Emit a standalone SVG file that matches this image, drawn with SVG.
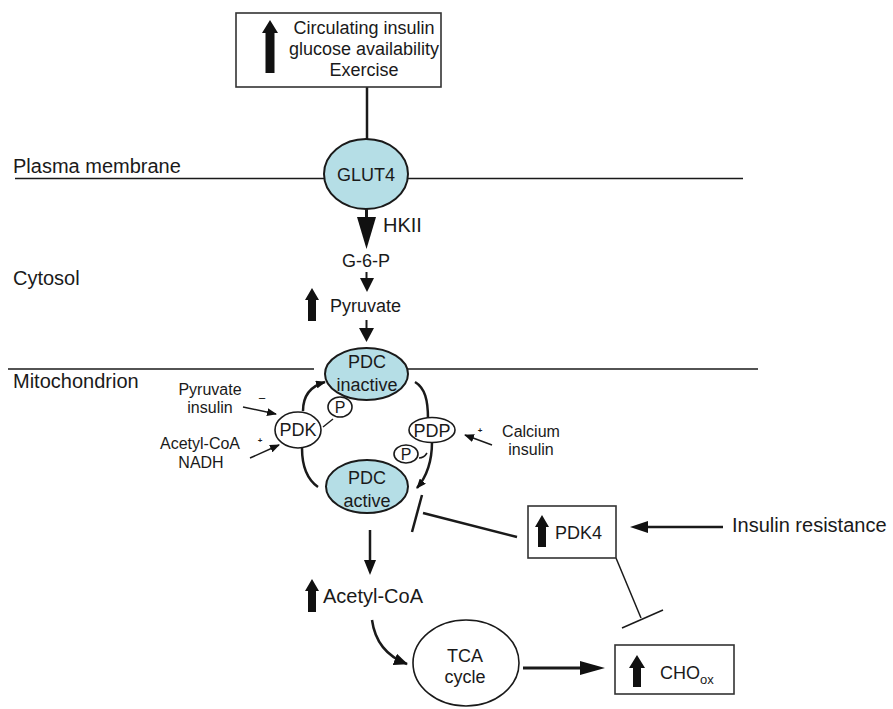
<svg xmlns="http://www.w3.org/2000/svg" width="893" height="709" viewBox="0 0 893 709">
<defs>
<style>
text{font-family:"Liberation Sans",Arial,Helvetica,sans-serif;fill:#1a1a1a}
.t20{font-size:20px}
.t18{font-size:18px}
.t16{font-size:16px}
.mid{text-anchor:middle}
.box{fill:#fff;stroke:#333;stroke-width:1.6}
.enz{fill:#b5dee6;stroke:#1a1a1a;stroke-width:2}
.ov{fill:#fff;stroke:#1a1a1a;stroke-width:1.6}
.mem{stroke:#1a1a1a;stroke-width:1.3;fill:none}
.ln{stroke:#1a1a1a;stroke-width:2.5;fill:none}
.thin{stroke:#1a1a1a;stroke-width:1.5;fill:none}
.blk{fill:#111}
</style>
<marker id="ah" markerWidth="10" markerHeight="8" refX="9" refY="4" orient="auto" markerUnits="userSpaceOnUse"><path d="M0 0 L10 4 L0 8 Z" fill="#111"/></marker>
<marker id="ah2" markerWidth="14" markerHeight="12" refX="13" refY="6" orient="auto" markerUnits="userSpaceOnUse"><path d="M0 0 L14 6 L0 12 Z" fill="#111"/></marker>
</defs>
<rect width="893" height="709" fill="#fff"/>

<g id="membranes">
<line class="mem" x1="15" y1="178.5" x2="324" y2="178.5"/>
<line class="mem" x1="408" y1="178.5" x2="743" y2="178.5"/>
<line class="mem" x1="8" y1="369" x2="314" y2="369"/>
<line class="mem" x1="407" y1="369" x2="758" y2="369"/>
<text class="t20" x="13" y="173">Plasma membrane</text>
<text class="t20" x="13" y="285">Cytosol</text>
<text class="t20" x="13" y="388">Mitochondrion</text>
</g>

<g id="connectors">
<line class="ln" x1="367" y1="87" x2="367" y2="139"/>
<line class="ln" x1="366.5" y1="209" x2="366.5" y2="219" style="stroke-width:3"/>
<polygon class="blk" points="357,217 376,217 366.5,249"/>
<line class="ln" x1="366.5" y1="272" x2="366.5" y2="280" style="stroke-width:2"/>
<polygon class="blk" points="360,278 374,278 367,292"/>
<line class="ln" x1="366.5" y1="320" x2="366.5" y2="330" style="stroke-width:2"/>
<polygon class="blk" points="359,328 374,328 366.5,342"/>
<path class="ln" d="M303 411 C303 395 311 386 325 382" marker-end="url(#ah)"/>
<path class="ln" d="M302 448 C302 468 308 480 318 487"/>
<path class="ln" d="M415 382 C425 388 428 400 428 419"/>
<path class="ln" d="M432 442 C432 460 428 475 417 488" marker-end="url(#ah)"/>
<path class="thin" d="M323 427 L333 419"/>
<path class="thin" d="M419 458 Q424 458 427 453"/>
<path class="thin" d="M243 407 L276 414" marker-end="url(#ah)"/>
<path class="thin" d="M250 458 L279 445" marker-end="url(#ah)"/>
<path class="thin" d="M492 445 L465 435" marker-end="url(#ah)"/>
<path class="ln" d="M422 495 L412 532"/>
<path class="ln" d="M423 513 L517 537"/>
<line class="ln" x1="723" y1="527" x2="645" y2="527"/>
<polygon class="blk" points="630,527 648,521 648,533"/>
<line class="ln" x1="370" y1="530" x2="370" y2="562"/>
<polygon class="blk" points="364,560 376,560 370,575"/>
<path class="ln" d="M372 620 C375 642 386 656 407 664" marker-end="url(#ah2)"/>
<line class="ln" x1="523" y1="668" x2="582" y2="668" style="stroke-width:3"/>
<polygon class="blk" points="580,661 605,668 580,675"/>
<path class="thin" d="M616 558 L641 618"/>
<path class="thin" d="M622 628 L663 610"/>
</g>

<g id="stimuli">
<rect class="box" x="236" y="13" width="205" height="74"/>
<path class="blk" d="M270 20 L278 33 L274.5 33 L274.5 73 L265.5 73 L265.5 33 L262 33 Z"/>
<text class="t18 mid" x="364" y="34">Circulating insulin</text>
<text class="t18 mid" x="364" y="55">glucose availability</text>
<text class="t18 mid" x="364" y="76">Exercise</text>
</g>

<g id="glut4">
<ellipse class="enz" cx="366" cy="174" rx="42" ry="35"/>
<text class="t18 mid" x="366" y="181">GLUT4</text>
</g>

<g id="hkii"><text class="t20" x="383" y="232">HKII</text></g>
<g id="g6p"><text class="t18 mid" x="366" y="267">G-6-P</text></g>

<g id="pyruvate">
<path class="blk" d="M312 288 L319 300 L316 300 L316 321 L308 321 L308 300 L305 300 Z"/>
<text class="t18" x="330" y="312">Pyruvate</text>
</g>

<g id="pdc-inactive">
<ellipse class="enz" cx="366.5" cy="374" rx="41.5" ry="26"/>
<text class="t18 mid" x="367" y="368">PDC</text>
<text class="t18 mid" x="367" y="391">inactive</text>
</g>

<g id="pdc-active">
<ellipse class="enz" cx="367" cy="486.5" rx="41" ry="26.5"/>
<text class="t18 mid" x="367" y="484">PDC</text>
<text class="t18 mid" x="367" y="507">active</text>
</g>

<g id="pdk">
<ellipse class="ov" cx="298" cy="430" rx="23" ry="18"/>
<text class="t18 mid" x="298" y="436">PDK</text>
</g>

<g id="p1">
<ellipse class="ov" cx="340" cy="407" rx="12" ry="10"/>
<text class="t16 mid" x="340" y="413">P</text>
</g>

<g id="pdp">
<ellipse class="ov" cx="432" cy="430" rx="23" ry="12.5"/>
<text class="t18 mid" x="432" y="437">PDP</text>
</g>

<g id="p2">
<ellipse class="ov" cx="406" cy="454" rx="12" ry="9"/>
<text class="t16 mid" x="406" y="460">P</text>
</g>

<g id="pdk-inhibitors">
<text class="t16 mid" x="210" y="395">Pyruvate</text>
<text class="t16 mid" x="210" y="413">insulin</text>
<text class="mid" x="262" y="403" style="font-size:13px">−</text>
</g>

<g id="pdk-activators">
<text class="t16 mid" x="200" y="449">Acetyl-CoA</text>
<text class="t16 mid" x="201" y="468">NADH</text>
<text class="mid" x="260" y="443" style="font-size:8px;font-weight:bold">+</text>
</g>

<g id="pdp-activators">
<text class="t16 mid" x="531" y="437">Calcium</text>
<text class="t16 mid" x="531" y="455">insulin</text>
<text class="mid" x="480" y="433" style="font-size:8px;font-weight:bold">+</text>
</g>

<g id="pdk4">
<rect class="box" x="528" y="506" width="88" height="52"/>
<path class="blk" d="M542 515 L549 527 L546 527 L546 547 L538 547 L538 527 L535 527 Z"/>
<text class="t18" x="555" y="539">PDK4</text>
</g>

<g id="insulin-resistance"><text class="t20" x="732" y="532">Insulin resistance</text></g>

<g id="acetyl-coa">
<path class="blk" d="M312 579 L319 591 L316 591 L316 612 L308 612 L308 591 L305 591 Z"/>
<text class="t20" x="323" y="603">Acetyl-CoA</text>
</g>

<g id="tca">
<ellipse class="ov" cx="466" cy="663" rx="53" ry="43"/>
<text class="t18 mid" x="465" y="662">TCA</text>
<text class="t18 mid" x="465" y="683">cycle</text>
</g>

<g id="cho-ox">
<rect class="box" x="615" y="645" width="119" height="49"/>
<path class="blk" d="M637 655 L645 668 L641 668 L641 687 L633 687 L633 668 L629 668 Z"/>
<text class="t18" x="660" y="679">CHO<tspan style="font-size:13px" dy="5">ox</tspan></text>
</g>
</svg>
